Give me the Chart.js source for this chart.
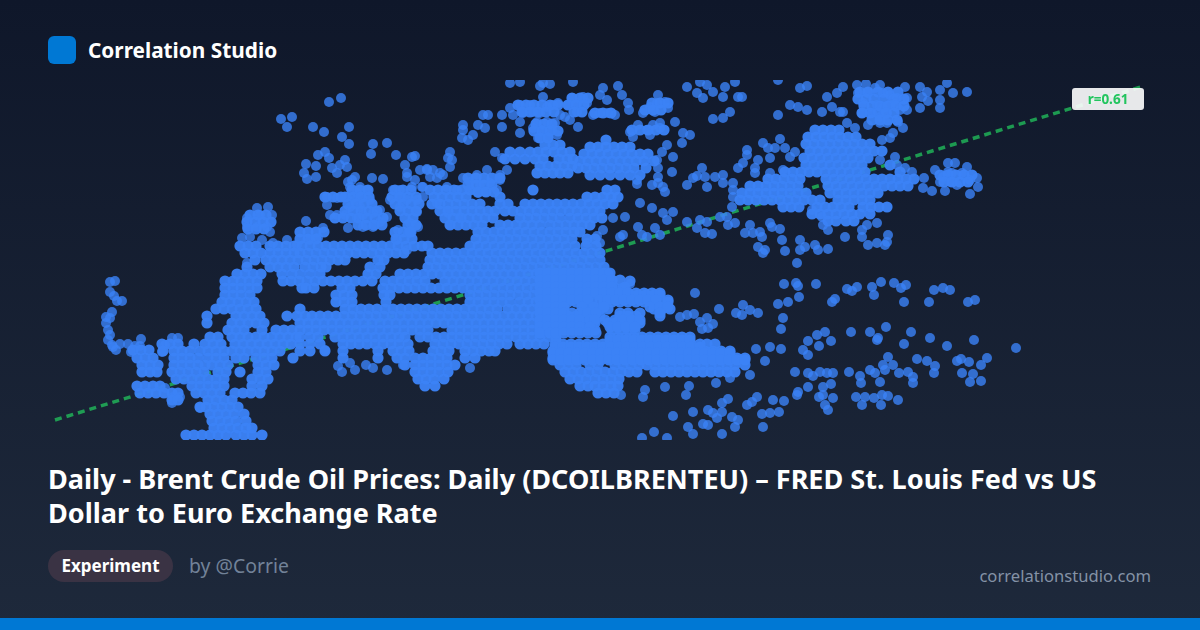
<!DOCTYPE html>
<html>
<head>
<meta charset="utf-8">
<script src="https://cdn.jsdelivr.net/npm/chart.js@4"></script>
<style>
html, body { margin: 0; padding: 0; }
body {
    width: 1200px; height: 630px; position: relative; overflow: hidden;
    background: linear-gradient(180deg, #0f172a 0%, #1e293b 100%);
    font-family: "Noto Sans", sans-serif; color: #fff;
}
#logo { position: absolute; left: 48px; top: 36px; width: 28px; height: 28px; border-radius: 6px; background: #0078d4; }
#brand { position: absolute; left: 88px; top: 36px; line-height: 28px; font-size: 20.8px; font-weight: 700; }
#plot { position: absolute; left: 0; top: 80px; width: 1200px; height: 360px; }
#badge {
    position: absolute; left: 1072px; top: 88px; width: 72px; height: 22px; line-height: 22px;
    border-radius: 3px; background: rgba(255,255,255,.9); color: #22c55e;
    font-size: 13.5px; font-weight: 700; text-align: center;
}
#title { position: absolute; left: 48px; top: 462px; width: 1070px; font-size: 27.05px; line-height: 34px; font-weight: 700; }
#tag {
    position: absolute; left: 48px; top: 550px; width: 125px; height: 32px; line-height: 32px;
    border-radius: 16px; background: #3a3344; text-align: center; font-size: 17px; font-weight: 700;
}
#author { position: absolute; left: 189px; top: 552px; line-height: 28px; font-size: 19.4px; color: #728298; }
#site { position: absolute; right: 49px; top: 562px; line-height: 28px; font-size: 16.6px; color: #8492a6; }
#bar { position: absolute; left: 0; top: 618px; width: 1200px; height: 12px; background: #0078d4; }
</style>
</head>
<body>
<div id="logo"></div>
<div id="brand">Correlation Studio</div>
<div id="plot"><canvas id="scatter" width="1200" height="360"></canvas></div>
<div id="badge">r=0.61</div>
<div id="title">Daily - Brent Crude Oil Prices: Daily (DCOILBRENTEU) – FRED St. Louis Fed vs US Dollar to Euro Exchange Rate</div>
<div id="tag">Experiment</div>
<div id="author">by @Corrie</div>
<div id="site">correlationstudio.com</div>
<div id="bar"></div>

<script>
// the picture has no ticks, values are in plain plot units read off it
// x = oil price position, y = exchange rate position

const fitX = [55, 1144];
const fitY = [20, 354];

// separate dots, [x, y]
const dotsTop = [[510,357],[520,358],[543,357],[540,354],[550,356],[573,358],[603,352],[618,354],[622,345],[628,337],[629,330],[600,345],[607,340],[543,343],
[572,342],[583,343],[568,335],[577,337],[587,337],[577,328],[520,335],[530,335],[553,335],[558,337],[547,333],[510,332],[513,325],[523,327],[533,328],[540,327],[560,325],[565,323],[570,320],
[488,325],[483,325],[502,325],[520,318],[502,313],[485,312],[478,315],[463,315],[463,310],[473,305],[462,302],[468,300],
[537,318],[547,318],[555,317],[533,312],[542,310],[552,310],[538,302],[548,303],[557,305],[520,307],[578,313],[600,327],[593,325],[608,327],[615,325],
[643,327],[650,333],[658,345],[665,338],[657,337],[668,332],[655,328],[675,318],[660,317],[653,315],[647,310],[638,315],[630,308],[650,305],[660,312],[633,303],
[683,307],[690,305],[682,297],[687,353],[697,347],[703,342],[713,348],[707,355],[700,358],[725,353],[723,343],[738,343],[735,358],[730,328],[723,322],[713,321]];

const dotsUpperLeft = [[329,338],[341,342],[281,321],[292,323],[287,313],[313,313],[324,308],[349,313],[342,303],[349,296],[373,296],[387,297],[371,286],[396,285],[325,288],[318,285],[329,282],[345,280],
[306,276],[316,274],[304,267],[316,263],[307,261],[332,272],[337,267],[347,273],[340,275],[355,263],[348,258],[372,262],[383,261],[415,284],[412,283],[405,275],[407,267],[427,271],[448,282],[440,267],[422,253],
[327,243],[337,242],[327,235],[350,253],[347,243],[357,247],[367,250],[370,240],[350,233],[360,233],[345,225],[330,225],[337,225],[357,222],[363,213],[373,213],[380,218],[373,227],[380,230],[387,223],[348,212],[355,240],[362,242],[352,260],[360,253],[363,225],
[393,250],[390,240],[400,233],[407,240],[417,240],[407,263],[412,253],[423,243],[415,260],[417,228],[418,213],[410,217],[408,207],[398,210],[397,200],[407,190],[400,250],[399,243],[437,237],[447,253],[457,250],[460,223],[448,227],[450,215],[430,263],[306,219],[323,212],
[257,232],[268,233],[247,222],[260,225],[272,225],[247,213],[257,213],[267,213],[270,208],[242,202],[250,203],[262,200],[247,177],[287,200],[273,197],[297,195],[310,200],[318,202],
[450,288],[452,280],[450,273],[443,265],[427,270],[433,270],[437,262],[423,253],[420,270],
[495,288],[502,282],[507,270],[500,260],[487,270],[477,265],[470,258],[480,255],[490,257],[497,250],[485,248],[500,265],[463,262],[470,250],[478,247]];

const dotsTail = [[110,158],[115,159],[110,148],[114,144],[117,139],[122,139],[112,128],[106,123],[106,117],[110,122],[108,110],[110,105],[108,100],[112,95],[116,90],[113,93],[120,96],[128,96],[135,94],[141,101],[140,94],[131,88],
[172,102],[178,102],[165,95],[162,88],[165,52],[173,43],[180,43],[172,37],[338,74],[342,68],[355,70],[373,72],[387,70],[403,75],[470,72],[350,77],[366,75],[325,90],[200,32],[240,68]];

const dotsCentreRight = [[667,295],[662,288],[657,280],[673,283],[658,272],[672,268],[658,263],[637,260],[637,256],[652,255],[658,257],[665,248],[663,253],
[640,237],[652,232],[625,223],[613,222],[663,227],[673,228],[667,220],[687,218],[638,213],[655,212],[660,205],[642,205],[647,203],[623,205],[620,203],[603,210],[597,204],[587,197],[600,197],
[700,220],[707,218],[697,212],[705,207],[712,206],[733,257],[733,250],[733,243],[732,233],[727,223],[735,217],[720,223],[728,215],[693,262],[687,255],[702,272],[705,263],[707,253],[715,263],[723,265],[723,257],[738,272],[697,264]];

const dotsRightBlob = [[778,360],[800,352],[807,354],[843,353],[837,347],[827,343],[832,333],[790,335],[798,333],[807,330],[778,325],[822,328],[843,328],[840,328],[742,343],
[857,355],[858,347],[868,347],[863,337],[862,327],[883,347],[897,342],[907,342],[875,352],[877,335],[887,327],[900,330],[907,330],[898,318],[903,312],[880,317],[868,315],[887,317],[883,332],[880,323],[890,335],[872,327],[890,345],[895,336],[866,356],[880,355],
[905,353],[920,353],[927,348],[922,343],[928,339],[940,350],[940,340],[940,332],[920,332],[947,357],[953,347],[967,348],[847,317],[855,312],[893,307],[890,302],[882,300],[895,283],[880,280],[897,275],[905,272],[912,268],
[763,297],[780,301],[768,292],[775,292],[785,292],[795,288],[790,283],[770,282],[758,280],[747,290],[747,285],[743,277],[755,272],[755,267],[770,267],[783,270],
[812,230],[822,223],[823,215],[828,210],[845,203],[750,215],[745,207],[753,207],[762,203],[760,208],[770,217],[772,213],[780,211],[782,200],[758,193],[765,190],[763,187],[785,189],[800,200],[800,190],[797,177],[805,193],[815,195],[818,190],[828,191],
[877,217],[867,215],[862,210],[862,203],[868,195],[877,197],[885,195],[888,205],[887,198],
[948,277],[955,277],[967,273],[935,270],[943,263],[952,267],[962,267],[940,258],[957,255],[970,260],[977,262],[978,253],[970,246],[945,249],[932,249],[923,252],[924,262],[950,258],[948,268]];

const dotsLowerRight = [[695,147],[719,131],[680,123],[687,125],[694,126],[700,118],[707,122],[713,116],[702,111],[708,112],[736,127],[743,135],[742,125],[750,130],[758,127],
[784,156],[796,157],[798,154],[816,156],[799,143],[788,138],[778,136],[783,122],[781,111],[835,141],[832,138],[847,151],[852,149],[857,153],[872,153],[874,145],[881,158],[894,157],[901,152],[906,155],[904,138],[929,138],[934,150],[943,152],[950,150],[968,138],[975,140],
[851,108],[870,108],[878,102],[877,100],[886,113],[911,108],[904,96],[930,102],[947,94],[974,100],[1016,92],[825,108],[817,105],[808,99],[831,99],[819,94],[803,90],[808,85],[756,91],[770,93],[781,91],[765,79],
[795,68],[808,67],[813,64],[820,68],[827,67],[833,67],[849,68],[860,64],[861,57],[870,70],[875,67],[880,58],[883,75],[888,83],[893,75],[885,70],[899,67],[908,68],[913,63],[913,57],[917,81],[927,79],[935,74],[934,67],[957,79],[961,81],[969,78],[987,82],[981,75],[962,67],[973,66],[970,58],[981,59],
[808,53],[831,56],[823,53],[823,45],[797,45],[798,48],[819,43],[833,42],[825,35],[828,30],[856,43],[865,43],[862,35],[874,42],[882,45],[888,44],[881,35],[898,40],
[784,39],[773,40],[757,43],[747,35],[752,38],[728,41],[722,37],[779,28],[770,27],[762,26],[763,13],[708,30],[713,27],[722,28],[717,22],[732,23],[738,20],[735,13],[703,16],[708,15],[693,28],[673,24],[688,13],[693,6],[722,6],[654,8],[642,2],[667,2],
[689,54],[686,45],[665,53],[716,57],[621,45],[645,50],[643,43],[750,65],[730,62],[630,156]];

// rows of the filled-in masses, one list of x per y level
const rowY = [310,303,296,289,282,275,268,261,254,247,240,233,226,219,
250,243,236,229,222,215,208,201,194,187,180,173,166,159,152,145,138,131,124,117,110,103,96,89,82,75,68,61,54,47,40,33,26,19,12,5,
300,293,286,279,272,265,295,288,281,274,267,
167,160,153,147,140,133,127,120,113,107,100,93,87,80];
const rowX = [
[815,823,831,839],
[808,816,824,832,840,848,856],
[806,814,822,830,838,846,854,862,870],
[810,818,826,834,842,850,858,866,874,882],
[804,812,820,828,836,844,852,860,868],
[806,814,822,830,838,846,854,862,890],
[785,793,801,809,817,825,833,841,849,857,865,900],
[768,776,784,792,800,826,834,842,850,858,866,874,882,890,898,906,914],
[750,758,766,774,782,790,798,828,836,844,852,860,868,876,884,892,900,908],
[742,750,758,766,774,782,790,798,806,830,838,846,854,862,870,878],
[740,748,756,764,772,780,788,796,804,812,820,838,846,854,862,870],
[783,791,799,817,825,833,841,849,863,871,879,887],
[812,820,828,836,844,852,860,870],
[828,836,846,854],

[430,438,446,454,462,470,533,607,615],
[434,442,450,458,466,500,587,595,603,611,618],
[432,440,448,456,464,472,480,500,508,525,533,541,549,557,565,573,581,589,597,605,613],
[440,448,456,464,472,480,488,495,505,513,521,529,537,545,553,561,569,577,585,593,600],
[445,453,461,469,477,485,493,520,528,536,544,552,560,570,578,586,594,602],
[450,458,466,474,482,500,508,516,524,532,540,550,558,566,574,582,590],
[300,308,316,324,395,403,411,478,486,494,502,510,518,526,534,542,550,558,566,574,580],
[300,308,316,396,404,412,476,484,492,500,508,516,524,532,540,548,556,564,572,587,595],
[240,248,256,270,278,286,294,302,310,318,326,334,342,350,358,366,374,382,390,398,406,414,422,428,470,478,486,494,502,510,518,526,534,542,550,558,566,575,586,596],
[245,253,261,270,278,286,294,300,308,316,324,332,340,348,356,364,372,380,388,396,404,432,440,448,456,464,472,480,488,496,504,512,520,528,536,544,552,560,568,576,584,592,600],
[255,266,274,282,290,298,306,314,322,330,338,345,378,384,430,438,446,454,462,470,478,486,494,502,510,518,526,534,542,550,558,566,574,582,590,600],
[247,270,278,286,294,305,313,321,326,370,380,428,436,444,452,460,468,476,484,492,500,508,516,524,532,540,548,556,564,572,580,588,596,604],
[237,245,253,261,282,292,300,310,320,368,376,400,408,416,424,432,440,448,456,464,472,480,488,496,504,512,520,528,536,544,552,560,568,576,584,592,600,608],
[225,233,241,249,257,283,291,299,307,315,323,331,339,347,355,363,372,385,393,401,409,417,425,445,453,461,469,477,485,493,501,509,517,525,533,541,549,557,565,573,581,589,597,605,612,630],
[225,233,241,249,257,302,306,314,342,350,383,391,399,407,415,423,431,439,447,455,463,471,479,487,495,503,511,519,527,535,543,551,559,567,575,583,591,599,607,615,623],
[225,233,241,250,336,344,352,384,390,470,478,486,494,502,510,518,526,534,542,550,558,566,574,582,590,598,606,614,622,630,638,646,654,660],
[222,230,238,246,254,336,344,352,386,470,478,486,494,502,510,520,528,536,544,552,560,568,576,584,592,604,612,620,628,636,644,652,660,668],
[216,224,232,240,248,256,300,345,353,361,369,377,385,393,401,409,417,425,433,441,449,457,465,473,481,489,497,508,516,524,532,540,548,556,564,584,592,600,608,654,662,670],
[207,236,244,252,260,287,297,305,312,320,328,336,344,352,360,368,376,384,392,400,408,416,424,432,440,448,456,464,472,480,488,496,504,512,520,528,536,544,552,560,568,576,584,592,600,620,628,636,660],
[207,232,240,248,256,264,300,308,316,324,332,340,348,356,364,372,380,388,396,404,412,420,428,436,444,452,460,468,476,484,492,500,508,516,524,532,540,548,556,564,572,580,588,595,608,615,623,631,640],
[228,236,244,262,276,284,292,300,308,316,324,332,340,348,356,364,372,380,388,396,404,412,420,428,452,460,468,476,484,492,500,508,516,524,532,540,548,556,564,572,580,588,595,612,620,628,635],
[210,218,232,240,248,256,264,272,280,288,296,300,310,318,335,343,351,359,367,375,383,391,399,405,420,428,436,444,452,460,468,476,484,492,500,508,516,524,532,540,548,556,610,618,626,634,642,650,658,666,674,682,690],
[162,170,178,194,205,213,221,235,243,251,259,267,275,283,291,300,310,320,343,351,359,367,375,383,391,399,408,435,443,451,459,467,475,483,491,499,507,520,528,536,544,555,563,571,579,587,595,603,611,619,627,635,643,651,659,667,675,683,691,700,707,715],
[163,174,182,190,200,208,216,224,232,240,248,256,264,272,280,300,310,325,343,378,393,401,409,433,441,449,465,473,481,489,495,553,561,569,577,585,593,601,609,617,625,633,641,649,657,665,673,681,689,697,705,713,721,730],
[137,145,153,174,182,190,198,208,216,224,236,244,256,264,272,293,343,378,397,405,415,423,431,439,447,465,475,553,561,569,577,585,593,601,609,617,625,633,641,649,657,665,673,681,689,697,705,713,721,729,737,745],
[142,150,158,174,182,190,198,205,212,220,228,258,266,274,405,415,423,431,439,447,455,560,568,576,590,598,615,623,631,639,647,655,663,671,679,687,695,703,711,719,727,735,745],
[142,150,157,172,180,188,196,204,218,226,240,258,266,415,423,431,439,448,565,573,581,589,597,605,613,621,629,637,655,663,671,679,687,695,703,711,719,727,735],
[176,184,192,200,208,216,224,252,260,268,418,426,434,444,570,578,586,595,603,611,619],
[137,145,153,160,192,200,208,216,224,252,262,425,435,580,588,595,603,611,618],
[140,148,156,164,172,178,196,204,212,220,235,243,251,260,598,606,614],
[172,178,208,216,224,232],
[200,206,214,222,230,238],
[210,218,226,234,244],
[212,220,228,236,246],
[214,222,230,238,246,252],
[186,194,202,210,218,226,236,244,252,262],

[606],
[590,598,606,614,622,630],
[584,592,600,608,616,624,632,640,648],
[580,588,596,604,612,620,628,636,644,654],
[578,586,594,602,610,618,626,634,646],
[590,600,610,620,630,640],
[545,553,560],
[510,520,530,538,546,554,562,570],
[505,515,525,535,543,559,567,573],
[540,548,556,564,572],
[537,545,553,560,568],

[540,548,556,564,572,580,588,596,604,610],
[540,548,556,564,572,580,588,596,604,612,620],
[540,548,556,564,572,580,588,596,604,612,625],
[540,548,556,564,572,580,588,596,604,612,620,628,636,644,652,660],
[540,548,556,564,572,580,588,600,608,616,624,632,640,648,656,668],
[540,548,556,564,582,594,604,650,660,668],
[540,548,556,564,572,580,588,596,620,628,640,660],
[540,548,556,564,572,580,590,595,605,615,623,632,640],
[540,548,556,564,572,580,590,610,618,626,635],
[540,550],
[556,610,618,626,634,642,650,658,666,674,682,690],
[555,563,571,579,587,595,603,611,619,627,635,643,651,659,667,675,683,691,700],
[553,561,569,577,585,593,601,609,617,625,633,641,649,657,665,673,681,689,697,705,713,721,730],
[553,561,569,577,585,593,601,609,617,625,633,641,649,657,665,673,681,689,697,705,713,721,729,737,745]
];

// smaller clusters that also read as solid
const clusterY = [243,250,243,236,229,222,215,
250,243,236,229,222,215,208,
262,255,248,
342,335,328,
335,328,
316,309,302,
327,337,330,
310,
348,341,334,327,320,
225,218,211,
90,
265,258,
107];
const clusterX = [
[325,333,341],
[352,360,368],
[345,353,361,369],
[348,356,364,372],
[345,353,361,369,377],
[335,343,351,359,367,375,383],
[358,366,374,382],

[395,403,411],
[392,400,408,416],
[395,403,411,419],
[400,408,416],
[405,413],
[408,416],
[410],

[468,476,484,492,500],
[468,476,484,492],
[478,486,494],

[572,580,588],
[568,576,584],
[574,582],

[518,526,534,542,550,558],
[522,530,538,546,554],

[536,544,552],
[534,542,550,558],
[540,548],

[595,603,611],
[652,660,668],
[645,653,661],

[632,640,648,656,664],

[860,868,878,888,898],
[858,866,874,884,894,904],
[864,872,880,888,896,904],
[862,870,878,886,894],
[872,880,888,897],

[250,258,266],
[247,255,263,271],
[248,256,264],

[133,141,149],

[940,948,956,964,972],
[944,952,960,968],

[556,564,572,580,588,596]
];

const dotPoints = dotsTop.concat(dotsUpperLeft, dotsTail, dotsCentreRight, dotsRightBlob, dotsLowerRight)
    .map((p) => ({ x: p[0], y: p[1] }));
const massPoints = [];
for (var i = 0; i < rowY.length; i++) {
    for (var j = 0; j < rowX[i].length; j++) {
        massPoints.push({ x: rowX[i][j], y: rowY[i] });
    }
}
for (var k = 0; k < clusterY.length; k++) {
    for (var m = 0; m < clusterX[k].length; m++) {
        massPoints.push({ x: clusterX[k][m], y: clusterY[k] });
    }
}

new Chart(document.getElementById('scatter'), {
    type: 'scatter',
    data: {
        datasets: [
            {
                label: 'Brent vs USD/EUR',
                data: dotPoints,
                backgroundColor: 'rgba(59,130,246,0.8)',
                borderWidth: 0,
                pointRadius: 5,
                order: 2
            },
            {
                label: 'Brent vs USD/EUR, dense part',
                data: massPoints,
                backgroundColor: 'rgba(59,130,246,0.96)',
                borderWidth: 0,
                pointRadius: 5.6,
                order: 1
            },
            {
                type: 'line',
                label: 'fit',
                data: fitX.map((x, n) => ({ x: x, y: fitY[n] })),
                borderColor: 'rgba(34,197,94,0.75)',
                borderWidth: 3.5,
                borderDash: [7, 5],
                pointRadius: 0,
                fill: false,
                order: 3
            }
        ]
    },
    options: {
        responsive: false,
        animation: false,
        devicePixelRatio: 1,
        layout: { padding: 0, autoPadding: false },
        plugins: { legend: { display: false }, tooltip: { enabled: false } },
        scales: {
            x: { type: 'linear', display: false, min: 0, max: 1200 },
            y: { type: 'linear', display: false, min: 0, max: 360 }
        }
    }
});
</script>
</body>
</html>
